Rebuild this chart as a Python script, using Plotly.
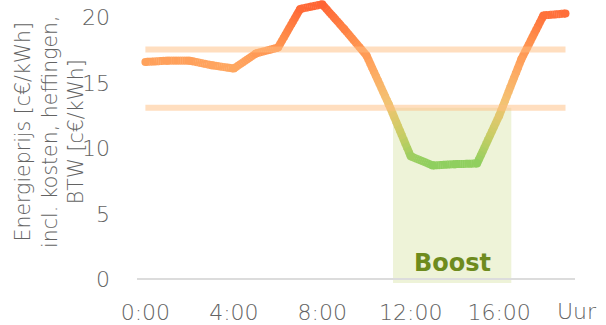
import plotly.graph_objects as go

# Hourly energy price (c€/kWh incl. costs, levies, VAT)
hours = list(range(20))
price = [16.6, 16.7, 16.7, 16.35, 16.1, 17.25, 17.7, 20.65, 21.0, 19.1,
         17.1, 13.4, 9.4, 8.7, 8.8, 8.85, 12.5, 16.8, 20.15, 20.3]

# Reference price levels shown as horizontal bands
band_levels = [17.55, 13.1]

# Boost window
boost_start, boost_end = 11.2, 16.55

tick_hours = [0, 4, 8, 12, 16]
tick_labels = ["0:00", "4:00", "8:00", "12:00", "16:00"]
y_ticks = [0, 5, 10, 15, 20]

FONT = "DejaVu Sans"
GREY = "#636363"

# value -> colour ramp (green for cheap, red-orange for expensive)
ramp = [(8.8, (143, 207, 95)), (11.0, (200, 205, 100)), (13.5, (243, 195, 115)),
        (16.3, (255, 165, 95)), (18.5, (255, 140, 74)), (21.0, (255, 100, 52))]


def colour_for(v):
    if v <= ramp[0][0]:
        c = ramp[0][1]
    elif v >= ramp[-1][0]:
        c = ramp[-1][1]
    else:
        for (v0, c0), (v1, c1) in zip(ramp[:-1], ramp[1:]):
            if v0 <= v <= v1:
                t = (v - v0) / (v1 - v0)
                c = tuple(round(a + (b - a) * t) for a, b in zip(c0, c1))
                break
    return "rgb(%d,%d,%d)" % c


fig = go.Figure()

# Price line: each straight segment is drawn in short colour steps so the
# stroke follows the colour ramp along its length.
steps = 12
for i in range(len(hours) - 1):
    x0, x1 = hours[i], hours[i + 1]
    y0, y1 = price[i], price[i + 1]
    for k in range(steps):
        ta = k / steps
        tb = min(1.0, (k + 1.2) / steps)
        xa, xb = x0 + (x1 - x0) * ta, x0 + (x1 - x0) * tb
        ya, yb = y0 + (y1 - y0) * ta, y0 + (y1 - y0) * tb
        fig.add_trace(go.Scatter(
            x=[xa, xb], y=[ya, yb], mode="lines",
            line=dict(color=colour_for((ya + yb) / 2), width=8),
            hoverinfo="skip", showlegend=False))

# round joints / ends at the hourly points
fig.add_trace(go.Scatter(
    x=hours, y=price, mode="markers",
    marker=dict(size=8, color=[colour_for(v) for v in price], line=dict(width=0)),
    hoverinfo="skip", showlegend=False))

# Semi-transparent reference bands on top of the line
for lvl in band_levels:
    fig.add_trace(go.Scatter(
        x=[hours[0], hours[-1]], y=[lvl, lvl], mode="lines",
        line=dict(color="rgba(255,190,128,0.5)", width=6),
        hoverinfo="skip", showlegend=False))

# Boost window
fig.add_shape(type="rect", xref="x", yref="y", layer="below",
              x0=boost_start, x1=boost_end, y0=-0.27, y1=band_levels[1],
              fillcolor="#eef3d8", line=dict(width=0))

fig.add_annotation(x=(boost_start + boost_end) / 2, y=1.25, xref="x", yref="y",
                   text="<b>Boost</b>", showarrow=False,
                   font=dict(family=FONT, size=24, color="#6e8b1e"))

# y-axis title
fig.add_annotation(xref="paper", yref="paper", x=-0.201, y=0.537,
                   xanchor="center", yanchor="middle", textangle=-90,
                   text="Energieprijs [c€/kWh]<br>incl. kosten, heffingen,<br>BTW [c€/kWh]",
                   showarrow=False, align="center",
                   font=dict(family=FONT, size=20.5, color=GREY, weight=200))

# x-axis unit label
fig.add_annotation(xref="paper", yref="paper", x=1.0046, y=-0.099,
                   xanchor="center", yanchor="middle", text="Uur",
                   showarrow=False,
                   font=dict(family=FONT, size=22, color=GREY, weight=200))

fig.update_layout(
    width=606, height=325,
    margin=dict(l=137, r=31, t=0, b=42),
    paper_bgcolor="white", plot_bgcolor="white",
    xaxis=dict(range=[-0.38, 19.43], tickvals=tick_hours, ticktext=tick_labels,
               showgrid=False, zeroline=False, showline=False,
               ticks="", ticklabelstandoff=14,
               tickfont=dict(family=FONT, size=22, color=GREY, weight=200)),
    yaxis=dict(range=[-0.27, 21.33], tickvals=y_ticks,
               showgrid=False, zeroline=True, zerolinecolor="#dcdcdc",
               zerolinewidth=1.5, showline=False, ticks="",
               ticklabelstandoff=26,
               tickfont=dict(family=FONT, size=22, color=GREY, weight=200)),
)

fig.write_html("out.html")
